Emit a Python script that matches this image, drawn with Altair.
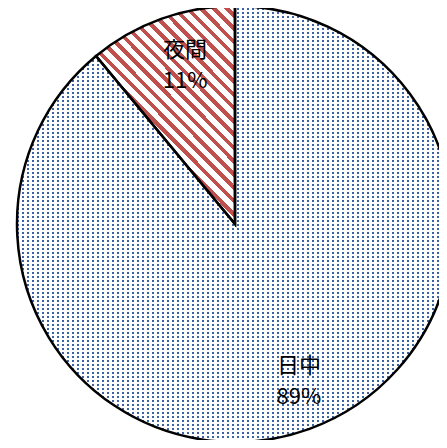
import altair as alt
import pandas as pd

categories = ["日中", "夜間"]
values = [89, 11]
labels = ["日中\n89%", "夜間\n11%"]
order = [0, 1]

df = pd.DataFrame({"cat": categories, "value": values, "label": labels, "idx": order})

CX, CY, R = 227, 216, 218


def stripes(n, frac, c1, c2):
    stops = []
    for i in range(n):
        a = i / n
        b = (i + frac) / n
        e = (i + 1) / n
        stops += [
            {"offset": round(a, 5), "color": c1},
            {"offset": round(b, 5), "color": c1},
            {"offset": round(b, 5), "color": c2},
            {"offset": round(e, 5), "color": c2},
        ]
    return stops


D = 2 * R
blue_cols = {"gradient": "linear", "x1": 0, "y1": 0, "x2": 88 * 5 / D, "y2": 0,
             "stops": stripes(88, 0.4, "#3a62a4", "#ffffff")}
white_rows = {"gradient": "linear", "x1": 0, "y1": 0, "x2": 0, "y2": 110 * 4 / D,
              "stops": stripes(110, 0.5, "rgba(255,255,255,1)", "rgba(255,255,255,0)")}
red_diag = {"gradient": "linear", "x1": 0, "y1": 1, "x2": 0.747, "y2": -0.163,
            "stops": stripes(27, 0.42, "#c0504d", "#ffffff")}

base = alt.Chart(df).encode(
    theta=alt.Theta("value:Q", stack=True),
    order=alt.Order("idx:Q"),
    x=alt.value(CX),
    y=alt.value(CY),
)

fill_layer = base.mark_arc(radius=R, strokeWidth=0).encode(
    fill=alt.condition("datum.cat == '日中'", alt.value(blue_cols), alt.value(red_diag))
)

overlay = base.mark_arc(radius=R, stroke="#000000", strokeWidth=2.5).encode(
    fill=alt.condition("datum.cat == '日中'", alt.value(white_rows), alt.value("transparent"))
)

text = base.mark_text(
    radius=168, font="Noto Sans CJK JP", fontSize=22, lineBreak="\n",
    lineHeight=31, color="#000000", baseline="middle", align="center", dy=-16, dx=7
).encode(text="label:N")

chart = alt.layer(fill_layer, overlay, text).properties(
    width=431, height=432, padding=0, autosize=alt.AutoSizeParams(type="none")
).configure_view(stroke=None)

chart.save("out.html", embed_options={"renderer": "svg", "actions": False})
